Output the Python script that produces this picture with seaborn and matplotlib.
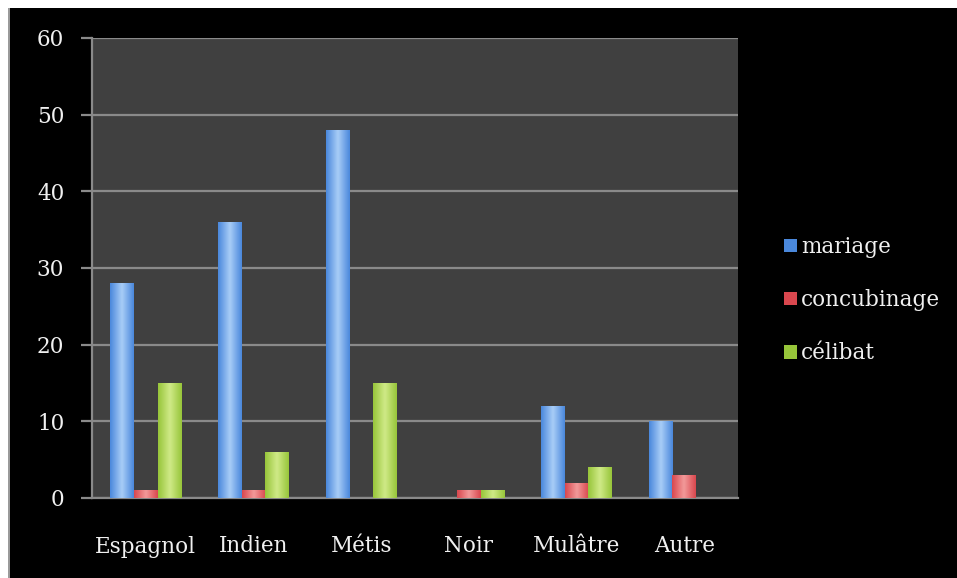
import numpy as np
import pandas as pd
import matplotlib
matplotlib.use("Agg")
import matplotlib.pyplot as plt
import seaborn as sns
from matplotlib.patches import Rectangle
from matplotlib.colors import LinearSegmentedColormap

categories = ["Espagnol", "Indien", "Métis", "Noir", "Mulâtre", "Autre"]
series = ["mariage", "concubinage", "célibat"]
mariage = [28, 36, 48, 0, 12, 10]
concubinage = [1, 1, 0, 1, 2, 3]
celibat = [15, 6, 15, 1, 4, 0]
yticks = [0, 10, 20, 30, 40, 50, 60]

rows = []
for name, vals in zip(series, [mariage, concubinage, celibat]):
    for c, v in zip(categories, vals):
        rows.append({"cat": c, "serie": name, "val": v})
df = pd.DataFrame(rows)

palette = {"mariage": "#4a88dc", "concubinage": "#d9474e", "célibat": "#97c53a"}
light = {"mariage": "#a9cdf7", "concubinage": "#f29a9a", "célibat": "#d0ea88"}

sns.set_style("dark")
plt.rcParams["font.family"] = ["DejaVu Serif"]

fig = plt.figure(figsize=(9.57, 5.78), dpi=100)
fig.patch.set_facecolor("white")
fig.add_artist(Rectangle((9/957, 0), 1, 1 - 8/578, transform=fig.transFigure,
                         facecolor="black", edgecolor="none", zorder=0))
fig.add_artist(Rectangle((8/957, 0), 2/957, 1 - 8/578, transform=fig.transFigure,
                         facecolor="#9a9a9a", edgecolor="none", zorder=0))

ax = fig.add_axes([92/957, 1 - 498/578, (738 - 92)/957, (498 - 38)/578])
ax.set_facecolor("#404040")

sns.barplot(data=df, x="cat", y="val", hue="serie", order=categories,
            hue_order=series, palette=palette, width=0.66, ax=ax,
            saturation=1, edgecolor="none", linewidth=0, legend=True)

# gradient overlay on each bar
for cont, name in zip(ax.containers, series):
    cmap = LinearSegmentedColormap.from_list(
        name, [palette[name], light[name], palette[name]])
    grad = np.linspace(0, 1, 64).reshape(1, -1)
    for p in cont.patches:
        h = p.get_height()
        if h <= 0:
            continue
        x0, w = p.get_x(), p.get_width()
        im = ax.imshow(grad, cmap=cmap, aspect="auto",
                       extent=(x0, x0 + w, 0, h), zorder=3,
                       interpolation="bicubic")
        im.set_clip_path(p)
        p.set_zorder(2)

ax.set_xlim(-0.5, len(categories) - 0.5)
ax.set_ylim(0, 60)
ax.set_yticks(yticks)
ax.set_yticklabels([str(t) for t in yticks])
ax.grid(axis="y", color="#8a8a8a", linewidth=1.6)
ax.grid(axis="x", visible=False)
ax.set_axisbelow(True)
for s in ["top", "right"]:
    ax.spines[s].set_visible(False)
for s in ["left", "bottom"]:
    ax.spines[s].set_visible(True)
    ax.spines[s].set_color("#8a8a8a")
    ax.spines[s].set_linewidth(1.6)

ax.set_xticks(np.arange(len(categories)))
ax.set_xticklabels(categories)
ax.set_xticks(np.arange(len(categories) + 1) - 0.5, minor=True)
ax.tick_params(axis="x", which="major", length=0, pad=27, labelsize=15.5,
               labelcolor="#f0f0f0")
ax.tick_params(axis="x", which="minor", length=7, width=1.6, color="#8a8a8a",
               direction="out")
ax.tick_params(axis="y", length=8, width=1.6, color="#8a8a8a", pad=12,
               labelsize=15.5, labelcolor="#f0f0f0", left=True)
ax.set_xlabel("")
ax.set_ylabel("")

leg = ax.legend(loc="center left", bbox_to_anchor=(1.041, 0.43), frameon=False,
                fontsize=15.5, labelcolor="#f0f0f0", handlelength=0.6,
                handleheight=0.6, handletextpad=0.2, labelspacing=1.45)

fig.savefig("out.png", dpi=100, facecolor=fig.get_facecolor())
